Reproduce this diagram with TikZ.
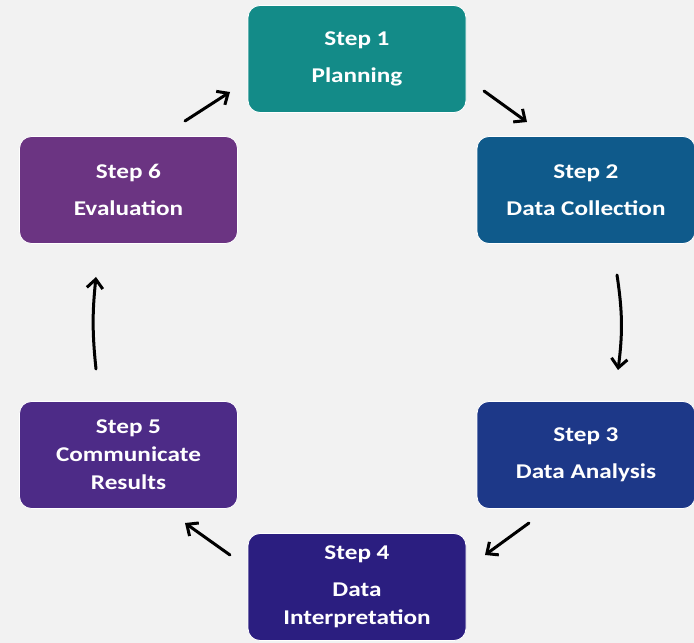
\documentclass[tikz,border=0pt]{standalone}
\usepackage{fontspec}
\setmainfont{Carlito}[FakeStretch=1.2]
\usetikzlibrary{arrows.meta}
\definecolor{bg}{HTML}{F2F2F2}
\definecolor{cA}{HTML}{138B88}
\definecolor{cB}{HTML}{0F5A8B}
\definecolor{cC}{HTML}{1D3888}
\definecolor{cD}{HTML}{2B1E80}
\definecolor{cE}{HTML}{4D2B87}
\definecolor{cF}{HTML}{6B3482}
\tikzset{
  stepbox/.style={rounded corners=12pt, minimum width=218pt, minimum height=107pt,
    inner sep=0pt, align=center, text=white, draw=white, line width=0.8pt,
    font=\fontsize{21}{28}\selectfont\bfseries},
  flow/.style={line width=3pt, line cap=round, -{Straight Barb[length=9pt,width=16pt,line width=3pt]}}
}
\begin{document}
\begin{tikzpicture}[x=1pt,y=1pt]
\fill[bg] (0,0) rectangle (694,643);
\useasboundingbox (0,0) rectangle (694,643);
\node[stepbox, fill=cA] (s1) at (357,584) {Step 1\\[9pt]Planning};
\node[stepbox, fill=cB] (s2) at (586,453) {Step 2\\[9pt]Data Collection};
\node[stepbox, fill=cC] (s3) at (586,188) {Step 3\\[9pt]Data Analysis};
\node[stepbox, fill=cD] (s4) at (357,56) {Step 4\\[9pt]Data\\Interpretation};
\node[stepbox, fill=cE] (s5) at (128.5,188) {Step 5\\Communicate\\Results};
\node[stepbox, fill=cF] (s6) at (128.5,453) {Step 6\\[9pt]Evaluation};
\coordinate (a12s) at (484,552); \coordinate (a12e) at (527,521);
\coordinate (a23s) at (617,368); \coordinate (a23e) at (618,273);
\coordinate (a34s) at (529,120); \coordinate (a34e) at (485,88);
\coordinate (a45s) at (230,88);  \coordinate (a45e) at (185,120);
\coordinate (a56s) at (96,274);  \coordinate (a56e) at (96,366);
\coordinate (a61s) at (185,522); \coordinate (a61e) at (230,551);
\draw[flow] (a12s) -- (a12e);
\draw[flow] (a23s) to[bend left=8] (a23e);
\draw[flow] (a34s) -- (a34e);
\draw[flow] (a45s) -- (a45e);
\draw[flow] (a56s) to[bend left=6] (a56e);
\draw[flow] (a61s) -- (a61e);
\end{tikzpicture}
\end{document}
